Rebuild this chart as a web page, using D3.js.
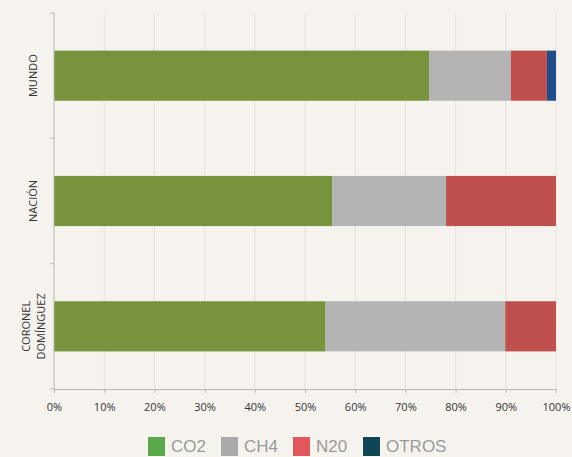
<!DOCTYPE html>
<html>
<head>
<meta charset="utf-8">
<script src="https://cdn.jsdelivr.net/npm/d3@7"></script>
<style>
  html, body { margin: 0; padding: 0; background: #f6f3ef; }
  svg { display: block; }
</style>
</head>
<body>
<svg id="chart" width="572" height="457"></svg>
<script>
// regions shown as bars, top to bottom
const regions = ["MUNDO", "NACIÓN", "CORONEL DOMÍNGUEZ"];
// gas shares in percent, one array per gas, same order as regions
const co2 = [74.7, 55.4, 54.1];
const ch4 = [16.3, 22.7, 35.8];
const n2o = [7.2, 21.9, 10.1];
const otros = [1.8, 0, 0];
const gases = ["CO2", "CH4", "N20", "OTROS"];
const xTicks = [0, 10, 20, 30, 40, 50, 60, 70, 80, 90, 100];

// bar colours and the slightly different legend colours
const barColors = ["#77933c", "#b4b4b4", "#c0504d", "#1f4e8a"];
const legendColors = ["#5aa84c", "#a9a9a9", "#e3565a", "#0e4656"];

const rows = regions.map((r, i) => ({
    region: r, CO2: co2[i], CH4: ch4[i], N20: n2o[i], OTROS: otros[i]
}));

const svg = d3.select("#chart");
const margin = { top: 13, left: 54, right: 16, bottom: 68 };
const width = 572 - margin.left - margin.right;
const height = 457 - margin.top - margin.bottom;

const g = svg.append("g").attr("transform", `translate(${margin.left},${margin.top})`);

const x = d3.scaleLinear().domain([0, 100]).range([0, width]);
const y = d3.scaleBand().domain(regions).range([0, height]).paddingInner(0.6).paddingOuter(0.3);

// vertical grid lines
g.selectAll(".grid").data(xTicks.slice(1)).enter().append("line")
    .attr("x1", d => x(d)).attr("x2", d => x(d))
    .attr("y1", 0).attr("y2", height)
    .attr("stroke", "#e4e0da").attr("stroke-width", 1);

// stacked bars
const stack = d3.stack().keys(gases)(rows);
g.selectAll(".layer").data(stack).enter().append("g")
    .attr("fill", (d, i) => barColors[i])
    .selectAll("rect").data(d => d).enter().append("rect")
    .attr("x", d => x(d[0]))
    .attr("width", d => x(d[1]) - x(d[0]))
    .attr("y", d => y(d.data.region))
    .attr("height", y.bandwidth());

// x axis
const xAxis = g.append("g").attr("transform", `translate(0,${height})`)
    .call(d3.axisBottom(x).tickValues(xTicks).tickFormat(d => d + "%").tickSize(4).tickSizeOuter(0));
xAxis.select(".domain").attr("stroke", "#b9b6b1");
xAxis.selectAll(".tick line").attr("stroke", "#b9b6b1");
xAxis.selectAll("text").attr("fill", "#333").attr("font-size", 11)
    .attr("font-family", "Open Sans, sans-serif").attr("dy", "1.4em");

// y axis: line with ticks at band edges
const yEdges = [0, height / 3, 2 * height / 3, height];
g.append("line").attr("x1", 0).attr("x2", 0).attr("y1", 0).attr("y2", height)
    .attr("stroke", "#b9b6b1");
g.selectAll(".ytick").data(yEdges).enter().append("line")
    .attr("x1", -4).attr("x2", 0).attr("y1", d => d).attr("y2", d => d)
    .attr("stroke", "#b9b6b1");

// rotated category labels
regions.forEach(r => {
    const cy = y(r) + y.bandwidth() / 2;
    const words = r === "CORONEL DOMÍNGUEZ" ? ["CORONEL", "DOMÍNGUEZ"] : [r];
    const t = g.append("text")
        .attr("transform", `translate(-21,${cy}) rotate(-90)`)
        .attr("text-anchor", "middle")
        .attr("font-family", "Open Sans, sans-serif")
        .attr("font-size", 11).attr("fill", "#333");
    words.forEach((w, i) => {
        t.append("tspan").attr("x", 0)
            .attr("y", (i - (words.length - 1) / 2) * 15 + 4)
            .text(w);
    });
});

// legend
const legendX = [148, 221, 293, 363];
const legend = svg.append("g");
gases.forEach((k, i) => {
    legend.append("rect").attr("x", legendX[i]).attr("y", 437)
        .attr("width", 17).attr("height", 19).attr("fill", legendColors[i]);
    legend.append("text").attr("x", legendX[i] + 23).attr("y", 452)
        .attr("font-family", "Liberation Sans, Arial, sans-serif")
        .attr("font-size", 17).attr("fill", "#9a9a9a").text(k);
});
</script>
</body>
</html>
